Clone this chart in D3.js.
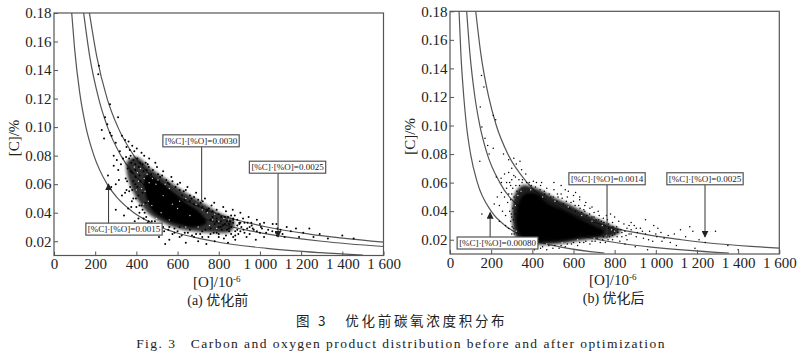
<!DOCTYPE html>
<html>
<head>
<meta charset="utf-8">
<script src="https://cdn.jsdelivr.net/npm/d3@7"></script>
<style>
  html, body { margin: 0; padding: 0; background: #fff; }
  svg { display: block; }
  text { font-family: "Liberation Serif", serif; fill: #222; }
  .cjk { font-family: "Noto Sans CJK SC", sans-serif; }
</style>
</head>
<body>
<svg id="chart" width="800" height="360"></svg>
<script>
// axis ticks
const xTicks = [0, 200, 400, 600, 800, 1000, 1200, 1400, 1600];
const yTicks = [0.02, 0.04, 0.06, 0.08, 0.10, 0.12, 0.14, 0.16, 0.18];
const xTickLabels = ['0', '200', '400', '600', '800', '1 000', '1 200', '1 400', '1 600'];

// iso-product curves, [O, C]
const curveA1 = [[86,.18],[100,.155],[125,.124],[155,.10],[194,.08],[258,.06],[310,.05],[388,.04],[517,.03],[775,.02],[1033,.015],[1292,.012],[1500,.0103]];
const curveA2 = [[144,.18],[173,.15],[217,.12],[260,.10],[325,.08],[433,.06],[520,.05],[650,.04],[867,.03],[1040,.025],[1300,.02],[1600,.0163]];
const curveA3 = [[172,.18],[207,.15],[258,.12],[310,.10],[388,.08],[517,.06],[620,.05],[775,.04],[1033,.03],[1240,.025],[1600,.0194]];
const curveB1 = [[44,.18],[53,.15],[67,.12],[80,.10],[100,.08],[133,.06],[200,.04],[267,.03],[400,.02],[533,.015],[750,.0107]];
const curveB2 = [[81,.18],[97,.15],[121,.12],[145,.10],[181,.08],[242,.06],[363,.04],[483,.03],[725,.02],[967,.015],[1355,.0107]];
const curveB3 = [[125,.18],[150,.15],[188,.12],[225,.10],[281,.08],[375,.06],[563,.04],[750,.03],[1125,.02],[1600,.0141]];

// dense parts of the clouds, too packed to read single dots
const haloA = [[355,.076],[400,.079],[470,.071],[550,.063],[640,.054],[720,.047],[800,.04],[875,.034],[860,.027],[760,.026],[680,.027],[600,.029],[530,.033],[470,.038],[420,.046],[380,.056],[355,.067]];
const coreA = [[445,.066],[510,.062],[580,.054],[640,.047],[710,.04],[740,.033],[680,.03],[600,.032],[530,.036],[480,.041],[450,.05]];
const haloB = [[310,.05],[350,.058],[420,.056],[500,.05],[590,.044],[680,.037],[770,.031],[830,.026],[780,.022],[660,.02],[520,.017],[400,.017],[330,.02],[305,.03]];
const coreB = [[335,.046],[365,.052],[420,.052],[480,.045],[560,.04],[640,.034],[710,.029],[750,.026],[730,.023],[650,.022],[560,.02],[480,.019],[400,.019],[350,.022],[325,.03]];

// single dots, [O, C]
const dotsA = [[218,.143],[215,.137],[272,.116],[311,.107],[248,.107],[232,.098],[259,.102],[272,.096],[243,.092],[280,.094],[300,.089],[330,.094],[345,.091],[352,.086],[320,.083],[290,.08],[305,.077],[335,.078],[362,.09],[380,.087],[290,.073],[312,.07],[325,.074],[350,.079],[372,.08],[390,.083],[405,.078],[425,.082],[445,.075],[462,.078],[480,.07],[500,.072],[515,.065],[530,.069],[545,.063],[570,.065],[590,.058],[612,.061],[630,.055],[648,.058],[668,.05],[690,.054],[712,.047],[733,.05],[752,.043],[778,.047],[800,.039],[822,.044],[845,.037],[868,.042],[890,.035],[905,.04],[925,.033],[945,.037],[960,.031],[985,.035],[1005,.03],[1020,.033],[1040,.028],[1062,.032],[1080,.032],[1085,.029],[1078,.026],[1082,.024],[1100,.028],[1130,.03],[1150,.027],[1175,.029],[1210,.026],[1240,.029],[1290,.025],[1330,.022],[1400,.024],[1455,.022],[1190,.023],[1000,.026],[1020,.023],[970,.028],[950,.025],[980,.021],[935,.023],[905,.027],[880,.021],[860,.025],[845,.019],[800,.023],[780,.02],[760,.025],[740,.018],[720,.023],[700,.02],[670,.024],[640,.019],[610,.023],[585,.026],[560,.021],[540,.018],[510,.023],[490,.027],[470,.026],[450,.031],[430,.029],[410,.036],[392,.034],[375,.044],[360,.043],[345,.054],[330,.052],[315,.063],[300,.06],[278,.058],[262,.066],[300,.042],[340,.038],[410,.027],[375,.03],[355,.062],[380,.056],[395,.065],[412,.072],[372,.069],[430,.074],[450,.07],[405,.058],[425,.045],[440,.04],[460,.034],[485,.03],[505,.028],[530,.03],[555,.028],[575,.025],[600,.027],[620,.024],[650,.026],[680,.023],[710,.025],[735,.028],[760,.029],[790,.026],[815,.028],[835,.024],[860,.03],[880,.027],[900,.032],[920,.028],[940,.033],[965,.029],[985,.027],[1010,.029],[770,.041],[790,.036],[810,.034],[830,.037],[850,.032],[870,.035],[890,.031],[760,.035],[780,.032],[800,.03],[820,.031],[840,.034],[860,.038],[740,.041],[720,.044],[700,.049],[680,.046],[660,.052],[635,.049],[610,.056],[585,.052],[560,.06],[530,.059],[505,.067],[480,.064],[460,.072],[435,.069],[415,.066],[395,.074],[375,.075],[358,.071],[348,.064],[365,.055],[385,.05],[400,.044],[415,.04],[435,.036],[455,.033],[475,.034],[880,.024],[910,.03],[1060,.027],[1110,.025],[1000,.032],[950,.03],[1030,.026],[1260,.023],[840,.028],[870,.033],[1120,.023],
  [368,.084],[385,.077],[402,.085],[418,.075],[438,.08],[455,.074],[472,.067],[492,.075],[510,.062],[525,.066],[553,.061],[575,.062],[600,.06],[622,.052],[640,.056],[660,.048],[680,.051],[702,.045],[722,.048],[745,.042],[765,.045],[790,.042],[812,.037],[835,.041],[855,.034],[878,.038],[900,.033],[918,.036],[938,.029],[958,.033],[365,.078],[380,.068],[395,.06],[410,.052],[385,.062],[370,.058],[352,.056],[378,.048],[398,.05],[415,.045],[430,.042],[448,.037],[468,.032],[490,.034],[512,.031],[535,.027],[560,.03],[585,.029],[610,.03],[635,.026],[660,.028],[690,.025],[720,.027],[750,.023],[775,.026],[800,.025],[825,.022],[850,.027],[870,.023],[895,.025],[925,.026],[395,.07],[420,.062],[440,.06],[460,.066],[430,.054],[445,.047],[870,.036],[850,.029],[830,.032],[810,.03],[790,.034],[770,.037],[890,.028],[905,.033]];
const speckA = [[390,.072],[405,.068],[420,.071],[438,.064],[452,.067],[425,.057],[442,.055],[410,.062],[462,.061],[478,.064],[495,.06],[458,.048],[475,.045],[505,.063],[540,.06],[560,.057],[610,.048],[640,.05],[690,.046],[720,.042],[745,.04],[770,.035],[800,.034],[520,.04],[560,.035],[640,.03],[700,.03],[755,.031],[600,.043],[660,.038],[575,.046],[530,.052],[825,.036],[848,.035],[790,.029],[400,.056],[435,.046],[498,.036],[780,.039]];

const dotsB = [[153,.135],[165,.127],[147,.113],[210,.107],[222,.104],[155,.099],[170,.091],[183,.086],[210,.084],[190,.08],[145,.075],[260,.08],[285,.076],[310,.077],[322,.073],[340,.075],[348,.069],[300,.07],[285,.067],[265,.066],[248,.063],[225,.064],[250,.06],[275,.06],[300,.062],[318,.064],[335,.062],[350,.06],[368,.066],[385,.06],[405,.061],[445,.06],[420,.06],[230,.05],[250,.053],[265,.05],[275,.056],[290,.06],[215,.045],[240,.044],[255,.04],[270,.037],[155,.038],[240,.033],[270,.03],[285,.028],[290,.04],[280,.046],[300,.024],[310,.02],[295,.033],[440,.058],[470,.056],[505,.055],[540,.052],[570,.05],[610,.053],[630,.048],[655,.044],[680,.042],[505,.06],[540,.058],[575,.054],[600,.047],[625,.044],[650,.041],[700,.039],[725,.037],[745,.035],[765,.034],[780,.038],[800,.036],[820,.033],[845,.031],[870,.03],[880,.027],[905,.028],[935,.026],[950,.034],[970,.026],[990,.03],[1010,.028],[1025,.025],[1060,.023],[1090,.024],[1120,.027],[1145,.022],[1180,.026],[1210,.02],[1290,.026],[1165,.029],[1030,.019],[1005,.022],[965,.02],[940,.021],[905,.022],[880,.024],[860,.02],[835,.022],[815,.025],[795,.027],[775,.022],[755,.018],[730,.018],[705,.019],[680,.017],[650,.018],[620,.016],[590,.017],[560,.015],[530,.014],[500,.014],[470,.013],[440,.014],[410,.013],[380,.014],[355,.015],[330,.016],[1100,.016],[1190,.014],[1240,.018],[1350,.016],[1400,.013],[850,.017],[900,.015],[960,.013],[1070,.018],[790,.032],[810,.029],[830,.027],[850,.026],[870,.024],[760,.037],[735,.033],[710,.034],[690,.036],[665,.037],[640,.039],[610,.04],[580,.042],[550,.045],[520,.047],[490,.05],[460,.052],[295,.048],[285,.052],[305,.056],[320,.058],[300,.036],[310,.028],[305,.042],[880,.032],[910,.025],[1040,.021],[770,.028],[800,.024],[790,.02],[825,.019],[745,.022],[720,.04],[690,.043],[660,.046],[630,.05],[600,.051],[560,.055],[525,.05],[1000,.024],[985,.019],[950,.024],[925,.028],[895,.03],[860,.028],
  [300,.052],[312,.05],[325,.054],[338,.058],[352,.062],[372,.06],[395,.058],[415,.057],[438,.055],[458,.054],[482,.052],[502,.05],[522,.052],[545,.049],[565,.047],[588,.046],[608,.044],[632,.042],[655,.04],[678,.038],[700,.036],[722,.034],[748,.032],[770,.031],[792,.029],[815,.027],[835,.025],[855,.023],[812,.022],[790,.023],[768,.02],[742,.02],[715,.021],[690,.019],[660,.019],[630,.018],[600,.018],[570,.017],[540,.016],[510,.016],[480,.016],[450,.015],[420,.016],[392,.016],[365,.017],[342,.018],[322,.02],[312,.024],[302,.029],[298,.038],[308,.034],[316,.038],[322,.044],[295,.058],[310,.065]];
const speckB = [[318,.044],[330,.051],[345,.054],[392,.055],[450,.05],[510,.047],[575,.043],[640,.037],[690,.033],[740,.03],[785,.027],[800,.026],[760,.023],[700,.021],[620,.02],[545,.018],[470,.017],[405,.018],[345,.021],[322,.026]];

// where the leader lines end and which box they start from
const notesA = [
  { label: '[%C]·[%O]=0.0030', boxO: 714, boxC: 0.0904, tipO: 717, tipC: 0.048, arrow: false },
  { label: '[%C]·[%O]=0.0025', boxO: 1134, boxC: 0.0719, tipO: 1088, tipC: 0.023, arrow: true },
  { label: '[%C]·[%O]=0.0015', boxO: 340, boxC: 0.0285, tipO: 265, tipC: 0.060, arrow: true }
];
const notesB = [
  { label: '[%C]·[%O]=0.00080', boxO: 231, boxC: 0.0177, tipO: 195, tipC: 0.039, arrow: true },
  { label: '[%C]·[%O]=0.0014', boxO: 763, boxC: 0.0627, tipO: 763, tipC: 0.021, arrow: false },
  { label: '[%C]·[%O]=0.0025', boxO: 1239, boxC: 0.0627, tipO: 1239, tipC: 0.022, arrow: true }
];

const svg = d3.select('#chart');
const frameColor = '#555';

const defs = svg.append('defs');
defs.append('marker')
  .attr('id', 'head')
  .attr('viewBox', '0 0 8 8')
  .attr('refX', 7).attr('refY', 4)
  .attr('markerWidth', 7).attr('markerHeight', 7)
  .attr('markerUnits', 'userSpaceOnUse')
  .attr('orient', 'auto')
  .append('path')
  .attr('d', 'M0,0L8,4L0,8Z')
  .attr('fill', '#222');
defs.append('filter').attr('id', 'soft').append('feGaussianBlur').attr('stdDeviation', 1.1);
defs.append('filter').attr('id', 'softer').append('feGaussianBlur').attr('stdDeviation', 1.8);

function drawPanel (opts) {
  const x = d3.scaleLinear().domain([0, 1600]).range([opts.left, opts.right]);
  const y = d3.scaleLinear().domain([0.01, 0.18]).range([opts.bottom, opts.top]);
  const g = svg.append('g');

  const curveLine = d3.line().x(d => x(d[0])).y(d => y(d[1])).curve(d3.curveMonotoneX);
  g.append('g').selectAll('path')
    .data(opts.curves)
    .join('path')
    .attr('d', curveLine)
    .attr('fill', 'none')
    .attr('stroke', '#555')
    .attr('stroke-width', 1.2);

  const blob = d3.line().x(d => x(d[0])).y(d => y(d[1])).curve(d3.curveCatmullRomClosed);
  g.append('path').attr('d', blob(opts.halo)).attr('fill', '#111').attr('opacity', opts.haloOpacity).attr('filter', 'url(#softer)');
  g.append('path').attr('d', blob(opts.core)).attr('fill', '#000').attr('filter', 'url(#soft)');

  g.append('g').selectAll('circle')
    .data(opts.dots)
    .join('circle')
    .attr('cx', d => x(d[0]))
    .attr('cy', d => y(d[1]))
    .attr('r', opts.dotSize)
    .attr('fill', '#000');

  g.append('g').selectAll('circle')
    .data(opts.specks)
    .join('circle')
    .attr('cx', d => x(d[0]))
    .attr('cy', d => y(d[1]))
    .attr('r', 0.7)
    .attr('fill', '#fff')
    .attr('opacity', 0.8);

  g.append('rect')
    .attr('x', opts.left).attr('y', opts.top)
    .attr('width', opts.right - opts.left).attr('height', opts.bottom - opts.top)
    .attr('fill', 'none').attr('stroke', frameColor).attr('stroke-width', 1.2);

  // ticks point into the frame
  const xAxis = d3.axisBottom(x).tickValues(xTicks).tickSize(-4).tickPadding(3)
    .tickFormat((d, i) => xTickLabels[i]);
  const yAxis = d3.axisLeft(y).tickValues(yTicks).tickSize(-4).tickPadding(2.5)
    .tickFormat(d3.format('.2f'));

  const xg = g.append('g').attr('transform', 'translate(0,' + opts.bottom + ')').call(xAxis);
  const yg = g.append('g').attr('transform', 'translate(' + opts.left + ',0)').call(yAxis);
  [xg, yg].forEach(a => {
    a.select('.domain').remove();
    a.selectAll('line').attr('stroke', frameColor);
    a.selectAll('text').style('font-family', '"Liberation Serif", serif').style('font-size', '15px').attr('fill', '#222');
  });

  opts.notes.forEach(function (n) {
    const bx = x(n.boxO);
    const by = y(n.boxC);
    g.append('line')
      .attr('x1', x(n.tipO)).attr('x2', x(n.tipO))
      .attr('y1', by).attr('y2', y(n.tipC))
      .attr('stroke', '#333').attr('stroke-width', 1)
      .attr('marker-end', n.arrow ? 'url(#head)' : null);
    const t = g.append('text')
      .attr('x', bx).attr('y', by + 3)
      .attr('text-anchor', 'middle')
      .style('font-size', '9px')
      .text(n.label);
    const w = t.node().getComputedTextLength();
    g.append('rect')
      .attr('x', bx - w / 2 - 2).attr('y', by - 6)
      .attr('width', w + 4).attr('height', 12)
      .attr('fill', '#fff').attr('stroke', frameColor).attr('stroke-width', 1.2);
    t.raise();
  });

  const midX = (opts.left + opts.right) / 2;
  const xLabel = g.append('text')
    .attr('x', midX - 2).attr('y', opts.bottom + 31)
    .attr('text-anchor', 'middle')
    .style('font-size', '15px')
    .text('[O]/10');
  xLabel.append('tspan').attr('dy', -5).style('font-size', '9px').text('-6');

  const sub = g.append('text')
    .attr('x', midX - 1).attr('y', opts.bottom + 49)
    .attr('text-anchor', 'middle')
    .style('font-size', '14px');
  sub.append('tspan').text(opts.title[0] + ' ');
  sub.append('tspan').attr('class', 'cjk').text(opts.title[1]);

  g.append('text')
    .attr('transform', 'translate(' + (opts.left - 35) + ',' + (opts.top + 125) + ') rotate(-90)')
    .attr('text-anchor', 'middle')
    .style('font-size', '15px')
    .text('[C]/%');
}

drawPanel({
  left: 54, right: 383.5, top: 13, bottom: 255.5,
  curves: [curveA1, curveA2, curveA3],
  halo: haloA, core: coreA, haloOpacity: 0.85, dots: dotsA, dotSize: 1.0, specks: speckA,
  notes: notesA, title: ['(a)', '优化前']
});
drawPanel({
  left: 450, right: 779.3, top: 11.3, bottom: 254,
  curves: [curveB1, curveB2, curveB3],
  halo: haloB, core: coreB, haloOpacity: 0.92, dots: dotsB, dotSize: 0.75, specks: speckB,
  notes: notesB, title: ['(b)', '优化后']
});

svg.append('text')
  .attr('class', 'cjk')
  .attr('x', 296).attr('y', 326)
  .style('font-size', '13.5px')
  .style('letter-spacing', '2.7px')
  .style('white-space', 'pre')
  .text('图 3   优化前碳氧浓度积分布');

svg.append('text')
  .attr('x', 401).attr('y', 348)
  .attr('text-anchor', 'middle')
  .style('font-size', '13.5px')
  .style('letter-spacing', '1.45px')
  .style('white-space', 'pre')
  .text('Fig. 3   Carbon and oxygen product distribution before and after optimization');
</script>
</body>
</html>
